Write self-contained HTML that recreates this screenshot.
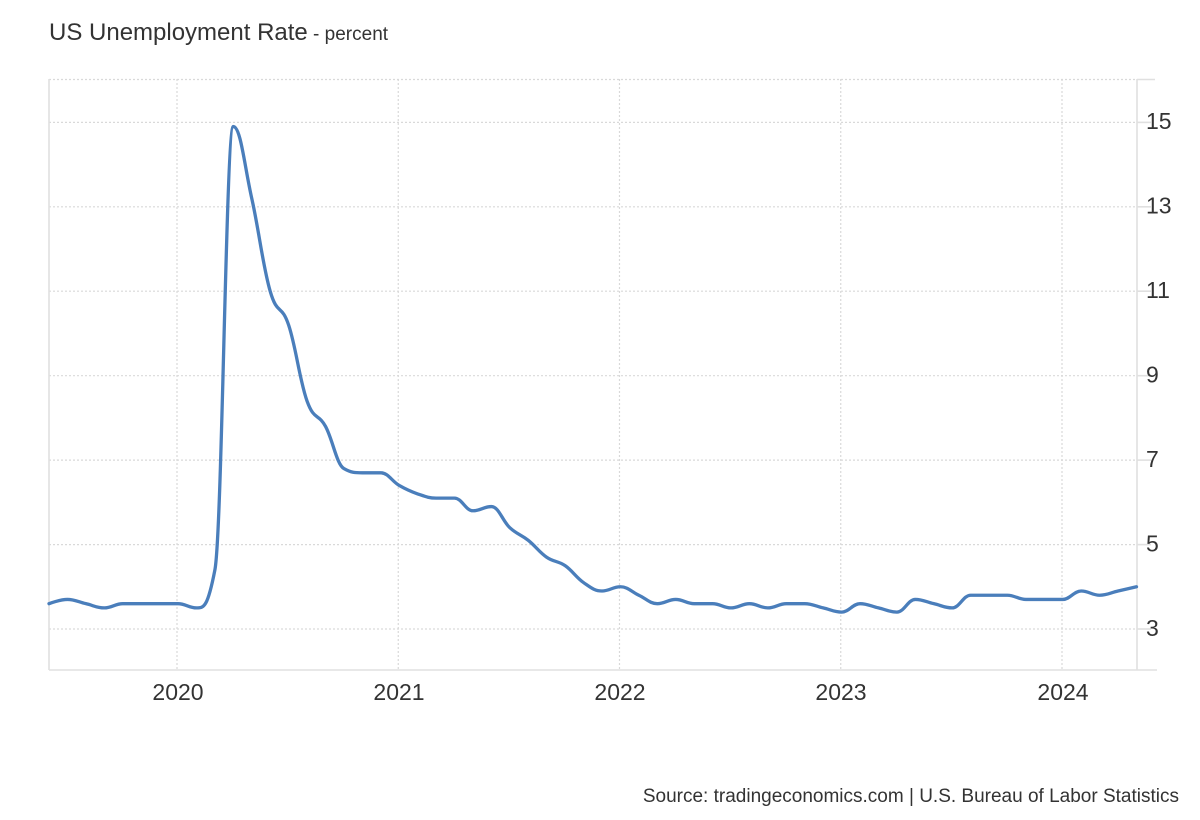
<!DOCTYPE html>
<html>
<head>
<meta charset="utf-8">
<style>
  html,body{margin:0;padding:0;background:#fff;}
  body{width:1200px;height:820px;overflow:hidden;}
  svg{display:block;font-family:"Liberation Sans",Arial,sans-serif;}
</style>
</head>
<body>
<svg id="chart" width="1200" height="820" viewBox="0 0 1200 820" xmlns="http://www.w3.org/2000/svg">
  <rect x="0" y="0" width="1200" height="820" fill="#ffffff"/>

  <!-- horizontal dotted grid -->
  <g stroke="#d9d9d9" stroke-width="1.2" stroke-dasharray="2 2" fill="none">
    <line x1="49" y1="79.5" x2="1137" y2="79.5"/>
    <line x1="49" y1="122.4" x2="1137" y2="122.4"/>
    <line x1="49" y1="206.8" x2="1137" y2="206.8"/>
    <line x1="49" y1="291.2" x2="1137" y2="291.2"/>
    <line x1="49" y1="375.7" x2="1137" y2="375.7"/>
    <line x1="49" y1="460.1" x2="1137" y2="460.1"/>
    <line x1="49" y1="544.6" x2="1137" y2="544.6"/>
    <line x1="49" y1="629" x2="1137" y2="629"/>
  </g>
  <!-- vertical dotted grid -->
  <g stroke="#d9d9d9" stroke-width="1.2" stroke-dasharray="2 2" fill="none">
    <line x1="177" y1="79" x2="177" y2="670"/>
    <line x1="398.25" y1="79" x2="398.25" y2="670"/>
    <line x1="619.5" y1="79" x2="619.5" y2="670"/>
    <line x1="840.75" y1="79" x2="840.75" y2="670"/>
    <line x1="1062" y1="79" x2="1062" y2="670"/>
  </g>

  <!-- axes -->
  <g stroke="#e0e0e0" stroke-width="1.6" fill="none">
    <line x1="49" y1="79" x2="49" y2="670"/>
    <line x1="1137" y1="79" x2="1137" y2="670"/>
    <line x1="49" y1="670" x2="1157" y2="670"/>
    <!-- right ticks -->
    <line x1="1137" y1="79.5" x2="1155" y2="79.5"/>
    <line x1="1137" y1="122.4" x2="1151" y2="122.4"/>
    <line x1="1137" y1="206.8" x2="1151" y2="206.8"/>
    <line x1="1137" y1="291.2" x2="1151" y2="291.2"/>
    <line x1="1137" y1="375.7" x2="1151" y2="375.7"/>
    <line x1="1137" y1="460.1" x2="1151" y2="460.1"/>
    <line x1="1137" y1="544.6" x2="1151" y2="544.6"/>
    <line x1="1137" y1="629" x2="1151" y2="629"/>
  </g>

  <!-- data line -->
  <path id="series" d="" fill="none" stroke="#4a7ebb" stroke-width="3.3" stroke-linejoin="round" stroke-linecap="round"/>

  <!-- title -->
  <text x="49" y="40" font-size="24" fill="#333">US Unemployment Rate<tspan font-size="19" fill="#333"> - percent</tspan></text>

  <!-- y tick labels -->
  <g font-size="23" fill="#333">
    <text x="1146" y="129">15</text>
    <text x="1146" y="213.5">13</text>
    <text x="1146" y="298">11</text>
    <text x="1146" y="382.5">9</text>
    <text x="1146" y="467">7</text>
    <text x="1146" y="551.5">5</text>
    <text x="1146" y="636">3</text>
  </g>

  <!-- x tick labels -->
  <g font-size="23" fill="#333" text-anchor="middle">
    <text x="178" y="700">2020</text>
    <text x="399" y="700">2021</text>
    <text x="620" y="700">2022</text>
    <text x="841" y="700">2023</text>
    <text x="1063" y="700">2024</text>
  </g>

  <!-- source -->
  <text x="1179" y="802" font-size="19" fill="#333" text-anchor="end">Source: tradingeconomics.com | U.S. Bureau of Labor Statistics</text>
</svg>

<script>
(function(){
  var vals = [
    3.6,3.7,3.6,3.5,3.6,3.6,3.6,               // Jun-Dec 2019
    3.6,3.5,4.4,14.9,13.2,11.0,10.2,8.4,7.8,6.8,6.7,6.7, // 2020
    6.4,6.2,6.1,6.1,5.8,5.9,5.4,5.1,4.7,4.5,4.1,3.9,     // 2021
    4.0,3.8,3.6,3.7,3.6,3.6,3.5,3.6,3.5,3.6,3.6,3.5,     // 2022
    3.4,3.6,3.5,3.4,3.7,3.6,3.5,3.8,3.8,3.8,3.7,3.7,     // 2023
    3.7,3.9,3.8,3.9,4.0                                  // 2024
  ];
  var x0 = 49, x1 = 1136.5;
  var step = (x1 - x0)/(vals.length - 1);
  var pts = vals.map(function(v,i){
    return {x: x0 + i*step, y: 629 - (v-3)*42.22};
  });
  var s = 1.5, den = s + 1;
  var d = 'M' + pts[0].x.toFixed(2) + ' ' + pts[0].y.toFixed(2);
  for (var i = 1; i < pts.length; i++) {
    var p = pts[i], prev = pts[i-1];
    var lcx = p.x, lcy = p.y;
    if (i < pts.length - 1) {
      var nx = pts[i+1].x, ny = pts[i+1].y, lx = prev.x, ly = prev.y;
      lcx = (s*p.x + lx)/den; lcy = (s*p.y + ly)/den;
      var rcx = (s*p.x + nx)/den, rcy = (s*p.y + ny)/den;
      if (rcx !== lcx) {
        var corr = ((rcy - lcy)*(rcx - p.x))/(rcx - lcx) + p.y - rcy;
        lcy += corr; rcy += corr;
        if (lcy > ly && lcy > p.y) { lcy = Math.max(ly, p.y); rcy = 2*p.y - lcy; }
        else if (lcy < ly && lcy < p.y) { lcy = Math.min(ly, p.y); rcy = 2*p.y - lcy; }
        if (rcy > ny && rcy > p.y) { rcy = Math.max(ny, p.y); lcy = 2*p.y - rcy; }
        else if (rcy < ny && rcy < p.y) { rcy = Math.min(ny, p.y); lcy = 2*p.y - rcy; }
      }
      p.rcx = rcx; p.rcy = rcy;
    }
    var c1x = (prev.rcx !== undefined) ? prev.rcx : prev.x;
    var c1y = (prev.rcy !== undefined) ? prev.rcy : prev.y;
    d += ' C' + c1x.toFixed(2) + ' ' + c1y.toFixed(2) + ' ' + lcx.toFixed(2) + ' ' + lcy.toFixed(2) + ' ' + p.x.toFixed(2) + ' ' + p.y.toFixed(2);
  }
  document.getElementById('series').setAttribute('d', d);
})();
</script>
</body>
</html>
